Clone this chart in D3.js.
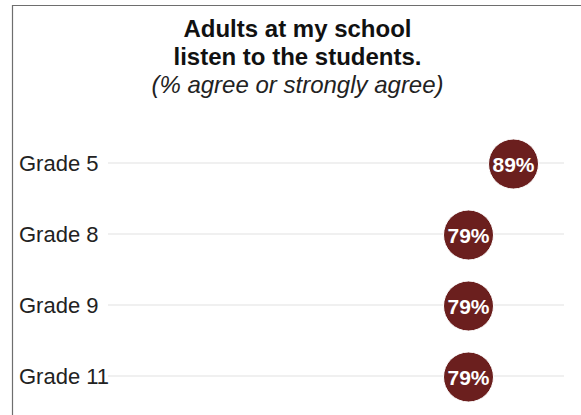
<!DOCTYPE html>
<html><head><meta charset="utf-8">
<script src="https://cdn.jsdelivr.net/npm/d3@7"></script>
<style>body{margin:0;background:#fff}svg{display:block}</style>
</head><body>
<script>
const categories = ["Grade 5","Grade 8","Grade 9","Grade 11"];
const values = [89,79,79,79];
const titleLines = ["Adults at my school","listen to the students."];
const subtitle = "(% agree or strongly agree)";

const W=581,H=415;
const svg=d3.select("body").append("svg").attr("width",W).attr("height",H);
svg.append("rect").attr("width",W).attr("height",H).attr("fill","#fff");
// frame
svg.append("path").attr("d","M12.5,"+H+"V5.5H"+W).attr("fill","none").attr("stroke","#6e6e6e").attr("stroke-width",1.2);

const font="Liberation Sans, Arial, Helvetica, sans-serif";
svg.selectAll("text.t").data(titleLines).join("text").attr("class","t")
  .attr("x",297.5).attr("y",(d,i)=>37+i*28).attr("text-anchor","middle")
  .attr("font-family",font).attr("font-weight","bold").attr("font-size",24).attr("fill","#111").text(d=>d);
svg.append("text").attr("x",297.5).attr("y",93).attr("text-anchor","middle")
  .attr("font-family",font).attr("font-style","italic").attr("font-size",24).attr("fill","#222").text(subtitle);

const x=d3.scaleLinear().domain([0,100]).range([113,563]);
const y=d3.scalePoint().domain(categories).range([163,376]);

const g=svg.append("g");
g.selectAll("line.grid").data(categories).join("line").attr("class","grid")
  .attr("x1",108).attr("x2",564).attr("y1",d=>y(d)).attr("y2",d=>y(d))
  .attr("stroke","#ebebeb").attr("stroke-width",1.5);
g.selectAll("text.lab").data(categories).join("text").attr("class","lab")
  .attr("x",19).attr("y",d=>y(d)).attr("dy","0.36em")
  .attr("font-family",font).attr("font-size",22).attr("fill","#222").text(d=>d);
g.selectAll("circle").data(values).join("circle")
  .attr("cx",d=>x(d)).attr("cy",(d,i)=>y(categories[i])+1).attr("r",25)
  .attr("fill","#6b1f1e").attr("stroke","#fff").attr("stroke-width",1);
g.selectAll("text.val").data(values).join("text").attr("class","val")
  .attr("x",d=>x(d)).attr("y",(d,i)=>y(categories[i])+1).attr("dy","0.36em").attr("text-anchor","middle")
  .attr("font-family",font).attr("font-weight","bold").attr("font-size",21).attr("fill","#fff").text(d=>d+"%");
</script>
</body></html>
